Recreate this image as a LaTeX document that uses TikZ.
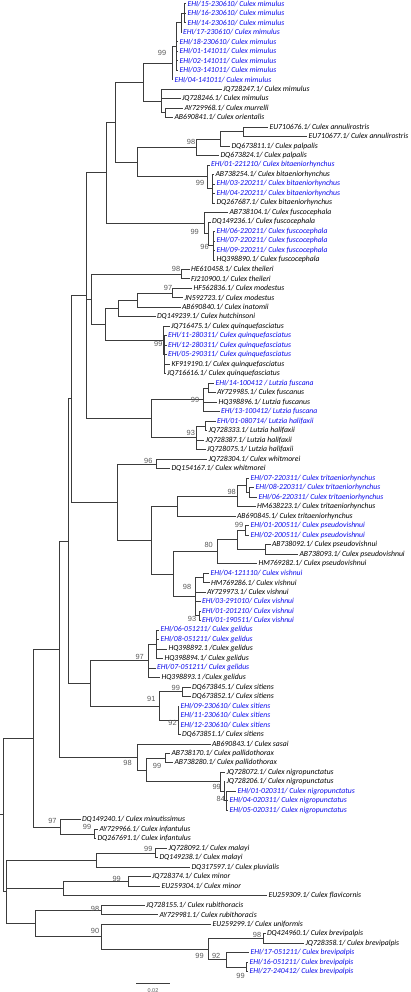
\documentclass[tikz,border=0pt]{standalone}
\usepackage{fontspec}
\newfontfamily\labfont{Carlito}
\newfontfamily\bsfont{Liberation Sans}
\definecolor{ehiblue}{RGB}{10,10,235}
\definecolor{treeline}{RGB}{60,60,60}
\definecolor{bsgray}{RGB}{90,90,90}
\pgfmathdeclarefunction{Y}{1}{\pgfmathparse{3.6+9.49*(#1-1)}}
\tikzset{
  edge/.style={draw=treeline, line width=0.65pt},
  leaflab/.style={anchor=west, inner sep=0pt, xshift=1.3pt, font=\labfont\itshape\fontsize{7.7}{8}\selectfont},
  bk/.style={leaflab, text=black},
  bl/.style={leaflab, text=ehiblue},
  bs/.style={inner sep=0pt, text=bsgray, font=\bsfont\fontsize{7.4}{7.4}\selectfont},
}
\newcommand\lf[4]{\coordinate (t#1) at (#2,{Y(#1)}); \node[#4] (l#1) at (t#1) {#3};}
\newcommand\br[2]{\foreach \ch in {#2} {\draw[edge] (#1) |- (\ch);}}
\begin{document}
\begin{tikzpicture}[x=1pt,y=-1pt]
\useasboundingbox (0,0) rectangle (410,992);
% ---------- leaves ----------
\lf{1}{186}{EHI/15-230610/ Culex mimulus}{bl}
\lf{2}{186}{EHI/16-230610/ Culex mimulus}{bl}
\lf{3}{186}{EHI/14-230610/ Culex mimulus}{bl}
\lf{4}{181.5}{EHI/17-230610/ Culex mimulus}{bl}
\lf{5}{178}{EHI/18-230610/ Culex mimulus}{bl}
\lf{6}{178}{EHI/01-141011/ Culex mimulus}{bl}
\lf{7}{178}{EHI/02-141011/ Culex mimulus}{bl}
\lf{8}{178}{EHI/03-141011/ Culex mimulus}{bl}
\lf{9}{173}{EHI/04-141011/ Culex mimulus}{bl}
\lf{10}{221.5}{JQ728247.1/ Culex mimulus}{bk}
\lf{11}{180.5}{JQ728246.1/ Culex mimulus}{bk}
\lf{12}{183}{AY729968.1/ Culex murrelli}{bk}
\lf{13}{173}{AB690841.1/ Culex orientalis}{bk}
\lf{14}{268}{EU710676.1/ Culex annulirostris}{bk}
\lf{15}{307}{EU710677.1/ Culex annulirostris}{bk}
\lf{16}{230}{DQ673811.1/ Culex palpalis}{bk}
\lf{17}{219}{DQ673824.1/ Culex palpalis}{bk}
\lf{18}{209.5}{EHI/01-221210/ Culex bitaeniorhynchus}{bl}
\lf{19}{214}{AB738254.1/ Culex bitaeniorhynchus}{bk}
\lf{20}{215}{EHI/03-220211/ Culex bitaeniorhynchus}{bl}
\lf{21}{215}{EHI/04-220211/ Culex bitaeniorhynchus}{bl}
\lf{22}{215}{DQ267687.1/ Culex bitaeniorhynchus}{bk}
\lf{23}{228}{AB738104.1/ Culex fuscocephala}{bk}
\lf{24}{210.5}{DQ149236.1/ Culex fuscocephala}{bk}
\lf{25}{215}{EHI/06-220211/ Culex fuscocephala}{bl}
\lf{26}{215}{EHI/07-220211/ Culex fuscocephala}{bl}
\lf{27}{215}{EHI/09-220211/ Culex fuscocephala}{bl}
\lf{28}{215}{HQ398890.1/ Culex fuscocephala}{bk}
\lf{29}{189.5}{HE610458.1/ Culex theileri}{bk}
\lf{30}{189.5}{FJ210900.1/ Culex theileri}{bk}
\lf{31}{192}{HF562836.1/ Culex modestus}{bk}
\lf{32}{183}{JN592723.1/ Culex modestus}{bk}
\lf{33}{180.5}{AB690840.1/ Culex inatomii}{bk}
\lf{34}{155.5}{DQ149239.1/ Culex hutchinsoni}{bk}
\lf{35}{169.5}{JQ716475.1/ Culex quinquefasciatus}{bk}
\lf{36}{166.5}{EHI/11-280311/ Culex quinquefasciatus}{bl}
\lf{37}{166.5}{EHI/12-280311/ Culex quinquefasciatus}{bl}
\lf{38}{166.5}{EHI/05-290311/ Culex quinquefasciatus}{bl}
\lf{39}{170}{KF919190.1/ Culex quinquefasciatus}{bk}
\lf{40}{165.5}{JQ716616.1/ Culex quinquefasciatus}{bk}
\lf{41}{214}{EHI/14-100412 / Lutzia fuscana}{bl}
\lf{42}{215.5}{AY729985.1/ Culex fuscanus}{bk}
\lf{43}{217}{HQ398896.1/ Lutzia fuscanus}{bk}
\lf{44}{219.5}{EHI/13-100412/ Lutzia fuscana}{bl}
\lf{45}{215.5}{EHI/01-080714/ Lutzia halifaxii}{bl}
\lf{46}{207}{JQ728333.1/ Lutzia halifaxii}{bk}
\lf{47}{204}{JQ728387.1/ Lutzia halifaxii}{bk}
\lf{48}{205.5}{JQ728075.1/ Lutzia halifaxii}{bk}
\lf{49}{207}{JQ728304.1/ Culex whitmorei}{bk}
\lf{50}{170}{DQ154167.1/ Culex whitmorei}{bk}
\lf{51}{249}{EHI/07-220311/ Culex tritaeniorhynchus}{bl}
\lf{52}{254}{EHI/08-220311/ Culex tritaeniorhynchus}{bl}
\lf{53}{257}{EHI/06-220311/ Culex tritaeniorhynchus}{bl}
\lf{54}{255.5}{HM638223.1/ Culex tritaeniorhynchus}{bk}
\lf{55}{235.5}{AB690845.1/ Culex tritaeniorhynchus}{bk}
\lf{56}{249}{EHI/01-200511/ Culex pseudovishnui}{bl}
\lf{57}{249}{EHI/02-200511/ Culex pseudovishnui}{bl}
\lf{58}{270.5}{AB738092.1/ Culex pseudovishnui}{bk}
\lf{59}{298}{AB738093.1/ Culex pseudovishnui}{bk}
\lf{60}{257}{HM769282.1/ Culex pseudovishnui}{bk}
\lf{61}{209}{EHI/04-121110/ Culex vishnui}{bl}
\lf{62}{209.5}{HM769286.1/ Culex vishnui}{bk}
\lf{63}{205.5}{AY729973.1/ Culex vishnui}{bk}
\lf{64}{200.5}{EHI/03-291010/ Culex vishnui}{bl}
\lf{65}{200.5}{EHI/01-201210/ Culex vishnui}{bl}
\lf{66}{200.5}{EHI/01-190511/ Culex vishnui}{bl}
\lf{67}{159}{EHI/06-051211/ Culex gelidus}{bl}
\lf{68}{159}{EHI/08-051211/ Culex gelidus}{bl}
\lf{69}{167}{HQ398892.1 /Culex gelidus}{bk}
\lf{70}{163}{HQ398894.1/ Culex gelidus}{bk}
\lf{71}{155.5}{EHI/07-051211/ Culex gelidus}{bl}
\lf{72}{160}{HQ398893.1 /Culex gelidus}{bk}
\lf{73}{190.5}{DQ673845.1/ Culex sitiens}{bk}
\lf{74}{190.5}{DQ673852.1/ Culex sitiens}{bk}
\lf{75}{179}{EHI/09-230610/ Culex sitiens}{bl}
\lf{76}{179}{EHI/11-230610/ Culex sitiens}{bl}
\lf{77}{179}{EHI/12-230610/ Culex sitiens}{bl}
\lf{78}{180.5}{DQ673851.1/ Culex sitiens}{bk}
\lf{79}{210.5}{AB690843.1/ Culex sasai}{bk}
\lf{80}{170}{AB738170.1/ Culex pallidothorax}{bk}
\lf{81}{173}{AB738280.1/ Culex pallidothorax}{bk}
\lf{82}{225}{JQ728072.1/ Culex nigropunctatus}{bk}
\lf{83}{225}{JQ728206.1/ Culex nigropunctatus}{bk}
\lf{84}{236}{EHI/01-020311/ Culex nigropunctatus}{bl}
\lf{85}{228}{EHI/04-020311/ Culex nigropunctatus}{bl}
\lf{86}{228}{EHI/05-020311/ Culex nigropunctatus}{bl}
\lf{87}{80.5}{DQ149240.1/ Culex minutissimus}{bk}
\lf{88}{98}{AY729966.1/ Culex infantulus}{bk}
\lf{89}{96}{DQ267691.1/ Culex infantulus}{bk}
\lf{90}{167}{JQ728092.1/ Culex malayi}{bk}
\lf{91}{158}{DQ149238.1/ Culex malayi}{bk}
\lf{92}{190}{DQ317597.1/ Culex pluvialis}{bk}
\lf{93}{150.5}{JQ728374.1/ Culex minor}{bk}
\lf{94}{160}{EU259304.1/ Culex minor}{bk}
\lf{95}{267}{EU259309.1/ Culex flavicornis}{bk}
\lf{96}{144.5}{JQ728155.1/ Culex rubithoracis}{bk}
\lf{97}{158}{AY729981.1/ Culex rubithoracis}{bk}
\lf{98}{211}{EU259299.1/ Culex uniformis}{bk}
\lf{99}{265.5}{DQ424960.1/ Culex brevipalpis}{bk}
\lf{100}{304}{JQ728358.1/ Culex brevipalpis}{bk}
\lf{101}{249}{EHI/17-051211/ Culex brevipalpis}{bl}
\lf{102}{248}{EHI/16-051211/ Culex brevipalpis}{bl}
\lf{103}{248}{EHI/27-240412/ Culex brevipalpis}{bl}
% ---------- internal nodes ----------
\coordinate (A) at (184,13.09);
\coordinate (B) at (181,22.58);
\coordinate (C) at (176,46.3);
\coordinate (D) at (172,62.91);
\coordinate (G) at (165.7,112.74);
\coordinate (F) at (161,100.87);
\coordinate (E) at (143,81.89);
\coordinate (N) at (243.3,131.72);
\coordinate (O) at (220.7,138.83);
\coordinate (P) at (196.7,147.14);
\coordinate (L) at (212.3,188.66);
\coordinate (K) at (207,176.8);
\coordinate (J) at (137,161.97);
\coordinate (H) at (115,121.93);
\coordinate (R) at (213,245.6);
\coordinate (S) at (208,233.73);
\coordinate (Q) at (204,223.06);
\coordinate (I) at (106,172.5);
\coordinate (U) at (181.7,274.07);
\coordinate (X) at (172.7,293.05);
\coordinate (Yn) at (137.3,300.17);
\coordinate (Z) at (118.3,308.47);
\coordinate (BBb) at (164.5,354.73);
\coordinate (BBa) at (163,340.5);
\coordinate (AA) at (105,324.48);
\coordinate (V) at (91.7,299.28);
\coordinate (fusa) at (208.3,387.95);
\coordinate (fusb) at (203.3,399.81);
\coordinate (hala) at (205,425.9);
\coordinate (halb) at (196.7,437.77);
\coordinate (Lz) at (151.7,418.79);
\coordinate (T) at (86,295.65);
\coordinate (Wh) at (156.7,463.87);
\coordinate (tria) at (249.5,492.34);
\coordinate (trib) at (246.5,485.22);
\coordinate (tric) at (237.7,495.9);
\coordinate (trid) at (177.7,505.98);
\coordinate (psa) at (245.7,530.3);
\coordinate (psc) at (265,549.28);
\coordinate (psb) at (237.3,539.79);
\coordinate (psd) at (217.3,551.65);
\coordinate (via) at (203.3,577.75);
\coordinate (vib) at (199.3,615.71);
\coordinate (vic) at (195,596.73);
\coordinate (AE) at (173.3,574.19);
\coordinate (AD) at (151.7,540.09);
\coordinate (AC) at (117.3,501.98);
\coordinate (gela) at (156.7,644.18);
\coordinate (gelb) at (148.3,660.79);
\coordinate (sia) at (182.7,691.63);
\coordinate (sib) at (178.3,720.1);
\coordinate (si) at (159.3,705.87);
\coordinate (AF) at (90,683.33);
\coordinate (AG) at (71,398.8);
\coordinate (AGb) at (68,541.1);
\coordinate (pal) at (165.7,758.06);
\coordinate (nigc) at (226.7,800.76);
\coordinate (nigb) at (224,791.27);
\coordinate (niga) at (220.7,781.78);
\coordinate (pn) at (146.7,769.92);
\coordinate (sa) at (137.3,756.87);
\coordinate (AH) at (59,649);
\coordinate (inf) at (94,833.98);
\coordinate (mi) at (60,826.86);
\coordinate (AI) at (33.3,737.9);
\coordinate (mal) at (155.7,852.96);
\coordinate (pl) at (96.7,860.08);
\coordinate (mna) at (128.3,881.43);
\coordinate (mn) at (63.3,888.55);
\coordinate (ru) at (101.7,909.9);
\coordinate (bra) at (263.3,938.37);
\coordinate (brb) at (246.7,966.84);
\coordinate (brc) at (226.7,959.72);
\coordinate (brd) at (208.3,949.05);
\coordinate (un) at (101.7,936.59);
\coordinate (ur) at (35,923.25);
\coordinate (AJ) at (6.7,891.67);
\coordinate (root) at (3.3,814.8);
\coordinate (rootstub) at (0,814.8);
% ---------- branches ----------
\br{A}{t1,t2,t3}
\br{B}{A,t4}
\br{C}{B,t5,t6,t7,t8}
\br{D}{C,t9}
\br{G}{t12,t13}
\br{F}{t10,t11,G}
\br{E}{D,F}
\br{N}{t14,t15}
\br{O}{N,t16}
\br{P}{O,t17}
\br{L}{t19,t20,t21,t22}
\br{K}{t18,L}
\br{J}{P,K}
\br{H}{E,J}
\br{R}{t25,t26,t27,t28}
\br{S}{t24,R}
\br{Q}{t23,S}
\br{I}{H,Q}
\br{U}{t29,t30}
\br{X}{t31,t32}
\br{Yn}{X,t33}
\br{Z}{Yn,t34}
\br{BBb}{t36,t37,t38,t39,t40}
\br{BBa}{t35,BBb}
\br{AA}{Z,BBa}
\br{V}{U,AA}
\br{fusa}{t41,t42}
\br{fusb}{fusa,t43,t44}
\br{hala}{t45,t46}
\br{halb}{hala,t47,t48}
\br{Lz}{fusb,halb}
\br{T}{I,V,Lz}
\br{Wh}{t49,t50}
\br{tria}{t52,t53}
\br{trib}{t51,tria}
\br{tric}{trib,t54}
\br{trid}{tric,t55}
\br{psa}{t56,t57}
\br{psc}{t58,t59}
\br{psb}{psa,psc}
\br{psd}{psb,t60}
\br{via}{t61,t62}
\br{vib}{t65,t66}
\br{vic}{via,t63,t64,vib}
\br{AE}{psd,vic}
\br{AD}{trid,AE}
\br{AC}{Wh,AD}
\br{gela}{t67,t68,t69,t70}
\br{gelb}{gela,t71,t72}
\br{sia}{t73,t74}
\br{sib}{t75,t76,t77,t78}
\br{si}{sia,sib}
\br{AF}{gelb,si}
\br{AG}{T,AC}
\br{AGb}{AG,AF}
\br{pal}{t80,t81}
\br{nigc}{t84,t85,t86}
\br{nigb}{t83,nigc}
\br{niga}{t82,nigb}
\br{pn}{pal,niga}
\br{sa}{t79,pn}
\br{AH}{AGb,sa}
\br{inf}{t88,t89}
\br{mi}{t87,inf}
\br{AI}{AH,mi}
\br{mal}{t90,t91}
\br{pl}{mal,t92}
\br{mna}{t93,t94}
\br{mn}{mna,t95}
\br{ru}{t96,t97}
\br{bra}{t99,t100}
\br{brb}{t102,t103}
\br{brc}{t101,brb}
\br{brd}{bra,brc}
\br{un}{t98,brd}
\br{ur}{ru,un}
\br{AJ}{pl,mn,ur}
\br{root}{AI,AJ}
\draw[edge] (rootstub) -- (root);
% ---------- bootstrap values ----------
\node[bs] (b1) at (162,52.7) {99};
\node[bs] (b2) at (191,142) {98};
\node[bs] (b3) at (200,183) {99};
\node[bs] (b4) at (194.7,232.3) {99};
\node[bs] (b5) at (204.5,246.5) {96};
\node[bs] (b6) at (176,268.7) {98};
\node[bs] (b7) at (168,287.7) {97};
\node[bs] (b8) at (158.3,343.7) {99};
\node[bs] (b9) at (195,399.7) {99};
\node[bs] (b10) at (190.8,432.7) {93};
\node[bs] (b11) at (148.3,460.7) {96};
\node[bs] (b12) at (231.7,491.7) {98};
\node[bs] (b13) at (239,525.3) {99};
\node[bs] (b14) at (208.7,545.3) {80};
\node[bs] (b15) at (187,586.7) {98};
\node[bs] (b16) at (192,619) {93};
\node[bs] (b17) at (139.7,656.7) {97};
\node[bs] (b18) at (175.8,687.7) {99};
\node[bs] (b19) at (151.3,698.7) {91};
\node[bs] (b20) at (172.5,722.7) {92};
\node[bs] (b21) at (127.5,763) {98};
\node[bs] (b22) at (157,766.3) {99};
\node[bs] (b23) at (216.7,787.3) {99};
\node[bs] (b24) at (220.8,799) {84};
\node[bs] (b25) at (52.5,820.7) {97};
\node[bs] (b26) at (87,827.3) {99};
\node[bs] (b27) at (148.3,849.3) {99};
\node[bs] (b28) at (116.7,879.3) {99};
\node[bs] (b29) at (95,909.3) {98};
\node[bs] (b30) at (95,931.3) {90};
\node[bs] (b31) at (257,934.7) {98};
\node[bs] (b32) at (199.5,956) {99};
\node[bs] (b33) at (216.2,956) {92};
\node[bs] (b34) at (240.5,976) {99};
% ---------- scale bar ----------
\coordinate (sba) at (136,983);
\coordinate (sbb) at (170,983);
\draw[edge] (sba) -- (sbb);
\node[bs, font=\bsfont\fontsize{5.5}{5.5}\selectfont] (sbl) at (153,990.3) {0.02};
\end{tikzpicture}
\end{document}
